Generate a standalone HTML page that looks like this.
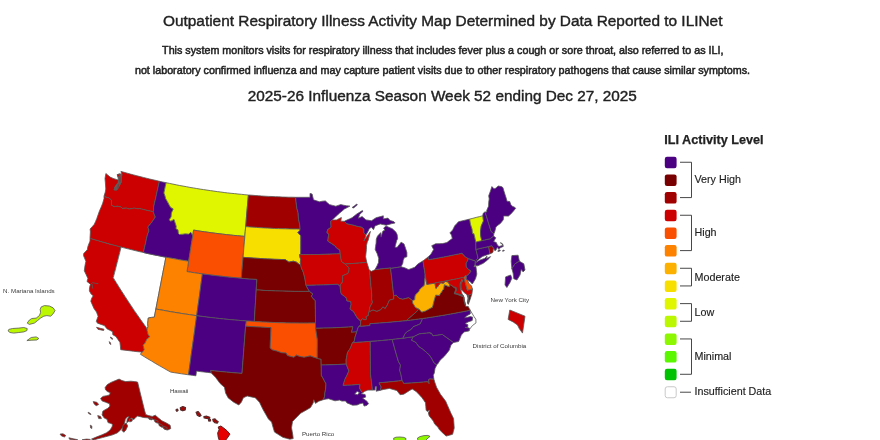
<!DOCTYPE html>
<html><head><meta charset="utf-8"><title>ILINet Activity Map</title>
<style>
html,body{margin:0;padding:0;background:#fff;}
body{width:880px;height:440px;overflow:hidden;}
svg{display:block;font-family:"Liberation Sans",Arial,sans-serif;}
.h1{font-size:15.4px;fill:#222;stroke:#222;stroke-width:0.4px;text-anchor:middle;}
.h2{font-size:10.74px;fill:#222;stroke:#222;stroke-width:0.5px;text-anchor:middle;}
.lg{font-size:12.65px;font-weight:bold;fill:#222;stroke:#222;stroke-width:0.25px;}
.lt{font-size:10.74px;fill:#222;stroke:#222;stroke-width:0.15px;}
.lb{font-size:6.2px;fill:#3a3a3a;}
.st path{stroke:#585858;stroke-width:0.8;stroke-linejoin:round;}
</style></head>
<body>
<svg width="880" height="440" viewBox="0 0 880 440">
<rect width="880" height="440" fill="#fff"/>
<text class="h1" x="442.7" y="26">Outpatient Respiratory Illness Activity Map Determined by Data Reported to ILINet</text>
<text class="h2" x="442.8" y="54.2">This system monitors visits for respiratory illness that includes fever plus a cough or sore throat, also referred to as ILI,</text>
<text class="h2" x="442.5" y="74">not laboratory confirmed influenza and may capture patient visits due to other respiratory pathogens that cause similar symptoms.</text>
<text class="h1" x="442.3" y="101.2" style="font-size:15.34px">2025-26 Influenza Season Week 52 ending Dec 27, 2025</text>
<g class="st">
<path d="M120.9,171.4L124.1,172.3L127.3,173.2L130.5,174.1L133.7,174.9L136.9,175.8L140.1,176.6L143.3,177.4L146.5,178.2L149.7,179.0L153.0,179.8L156.2,180.5L159.4,181.3L158.4,185.6L157.4,189.9L156.5,194.3L155.5,198.6L154.5,203.0L153.5,207.3L153.5,209.7L153.4,211.8L150.4,211.1L147.5,210.5L144.6,209.8L141.7,209.1L138.8,208.4L138.5,208.9L136.4,208.5L134.2,208.1L131.8,208.6L129.5,209.0L126.3,208.1L122.4,208.4L121.0,207.0L117.4,206.2L114.2,206.7L111.6,205.2L111.4,203.7L111.5,200.2L110.0,198.8L108.5,197.8L106.0,197.2L104.0,196.1L105.3,192.1L105.8,189.0L105.6,186.0L105.4,182.9L105.0,178.5L105.9,173.5L108.0,175.3L110.2,177.1L112.0,177.9L113.9,178.7L116.2,179.4L118.5,180.1L118.2,182.4L115.0,186.9L114.1,189.9L116.7,190.1L119.2,185.9L121.2,182.2L121.3,177.9L121.9,174.3Z" fill="#cc0000"/>
<path d="M104.0,196.1L106.0,197.2L108.5,197.8L110.0,198.8L111.5,200.2L111.4,203.7L111.6,205.2L114.2,206.7L117.4,206.2L121.0,207.0L122.4,208.4L126.3,208.1L129.5,209.0L131.8,208.6L134.2,208.1L136.4,208.5L138.5,208.9L138.8,208.4L141.7,209.1L144.6,209.8L147.5,210.5L150.4,211.1L153.4,211.8L154.0,213.9L155.3,217.0L153.1,220.3L151.5,222.6L147.8,227.1L148.8,229.5L148.8,231.7L147.6,233.9L146.5,238.5L145.5,243.2L144.4,247.9L143.4,252.5L139.8,251.7L136.2,250.9L132.6,250.0L129.0,249.1L125.5,248.3L121.9,247.3L118.3,246.4L114.8,245.5L111.2,244.5L107.7,243.5L104.1,242.5L100.6,241.5L97.0,240.5L93.5,239.4L90.0,238.4L90.2,235.1L90.4,231.9L90.1,229.0L92.2,226.7L94.3,224.3L95.6,221.4L96.8,218.5L98.2,214.5L99.6,210.6L101.1,207.2L102.5,203.8L104.0,198.8Z" fill="#cc0000"/>
<path d="M90.0,238.4L93.4,239.4L96.9,240.4L100.3,241.4L103.8,242.4L107.2,243.4L110.7,244.4L114.2,245.3L117.7,246.2L121.1,247.1L119.8,252.2L118.5,257.3L117.2,262.4L115.9,267.5L114.6,272.6L113.2,277.7L116.1,282.4L119.0,287.1L122.0,291.8L125.0,296.4L128.0,301.1L131.1,305.7L134.2,310.4L137.4,315.0L140.6,319.6L143.8,324.1L147.1,328.7L147.1,330.3L148.0,334.3L149.8,336.8L146.8,339.1L144.9,343.3L143.1,345.1L144.1,349.6L142.5,352.2L141.7,352.1L137.5,351.7L133.3,351.2L129.1,350.7L124.9,350.2L120.7,349.7L120.4,346.1L119.9,342.3L117.9,339.4L115.9,336.5L112.8,334.7L112.6,331.7L109.9,330.3L107.1,328.9L104.4,325.6L101.0,324.4L97.5,323.2L96.3,321.3L98.1,316.3L96.5,312.1L94.0,308.6L92.4,304.9L90.8,301.2L91.7,298.2L93.2,295.8L91.1,294.0L89.4,290.9L89.5,287.7L90.3,284.8L90.6,284.4L88.8,282.9L87.0,281.5L87.9,278.4L86.1,274.6L84.3,270.8L85.0,265.5L85.9,261.3L83.5,255.6L83.7,253.5L87.3,249.7L87.9,246.5L88.9,243.8L90.0,241.1Z" fill="#cc0000"/>
<path d="M121.1,247.1L124.8,248.1L128.6,249.0L132.3,249.9L136.0,250.8L139.7,251.7L143.5,252.5L147.2,253.4L150.9,254.2L154.7,255.0L158.4,255.7L162.2,256.5L165.9,257.2L164.9,262.4L163.9,267.6L162.9,272.7L161.9,277.9L160.9,283.1L159.9,288.2L158.9,293.4L157.9,298.6L156.9,303.8L155.9,309.0L155.1,313.1L154.3,317.2L151.6,317.4L148.3,318.0L148.0,320.7L147.7,323.5L148.0,326.7L147.1,328.7L143.8,324.1L140.6,319.6L137.4,315.0L134.2,310.4L131.1,305.7L128.0,301.1L125.0,296.4L122.0,291.8L119.0,287.1L116.1,282.4L113.2,277.7L114.6,272.6L115.9,267.5L117.2,262.4L118.5,257.3L119.8,252.2Z" fill="#ffffff"/>
<path d="M159.4,181.3L162.7,182.0L166.1,182.7L165.3,186.1L164.6,189.6L163.9,193.0L164.9,195.7L165.7,198.7L167.3,201.4L169.4,205.4L170.8,207.6L173.2,208.9L171.4,213.0L171.1,216.8L169.3,219.8L170.7,221.2L174.0,219.4L174.6,221.3L176.3,226.5L175.9,228.6L178.0,229.9L178.4,233.4L179.5,234.5L182.9,234.2L185.1,233.8L188.7,234.1L190.8,232.3L192.7,235.6L191.9,240.7L191.1,245.8L190.3,251.0L189.5,256.1L188.6,261.2L184.8,260.6L181.1,260.0L177.3,259.3L173.5,258.6L169.7,257.9L165.9,257.2L162.2,256.5L158.4,255.7L154.6,255.0L150.9,254.2L147.1,253.4L143.4,252.5L144.4,247.9L145.5,243.2L146.5,238.5L147.6,233.9L148.8,231.7L148.8,229.5L147.8,227.1L151.5,222.6L153.1,220.3L155.3,217.0L154.0,213.9L153.4,211.8L153.5,209.7L153.5,207.3L154.5,203.0L155.5,198.6L156.5,194.3L157.4,189.9L158.4,185.6Z" fill="#4b0082"/>
<path d="M166.1,182.7L169.5,183.4L172.9,184.1L176.3,184.8L179.7,185.5L183.1,186.1L186.5,186.7L189.9,187.4L193.3,187.9L196.7,188.5L200.2,189.1L203.6,189.6L207.0,190.1L210.4,190.6L213.9,191.1L217.3,191.6L220.8,192.0L224.2,192.5L227.6,192.9L231.1,193.3L234.5,193.6L238.0,194.0L241.4,194.3L244.9,194.7L248.4,195.0L247.9,200.1L247.5,205.3L247.0,210.4L246.6,215.6L246.2,220.8L245.7,226.0L245.3,231.2L244.8,236.4L241.2,236.1L237.5,235.7L233.8,235.4L230.2,235.0L226.5,234.6L222.8,234.2L219.2,233.7L215.5,233.3L211.8,232.8L208.2,232.3L204.5,231.8L200.9,231.3L197.2,230.7L193.6,230.1L193.2,232.9L192.7,235.6L190.8,232.3L188.7,234.1L185.1,233.8L182.9,234.2L179.5,234.5L178.4,233.4L178.0,229.9L175.9,228.6L176.3,226.5L174.6,221.3L174.0,219.4L170.7,221.2L169.3,219.8L171.1,216.8L171.4,213.0L173.2,208.9L170.8,207.6L169.4,205.4L167.3,201.4L165.7,198.7L164.9,195.7L163.9,193.0L164.6,189.6L165.3,186.1Z" fill="#e0f500"/>
<path d="M193.6,230.1L197.2,230.7L200.9,231.3L204.5,231.8L208.2,232.3L211.8,232.8L215.5,233.3L219.2,233.7L222.8,234.2L226.5,234.6L230.2,235.0L233.8,235.4L237.5,235.7L241.2,236.1L244.8,236.4L244.4,241.6L244.0,246.8L243.5,252.0L243.1,257.3L242.6,262.5L242.2,267.8L241.7,273.0L241.3,278.2L237.4,277.9L233.5,277.5L229.6,277.2L225.7,276.8L221.8,276.3L218.0,275.9L214.1,275.4L210.2,274.9L206.3,274.4L202.4,273.9L198.6,273.4L194.7,272.8L190.8,272.2L187.0,271.6L187.8,266.4L188.6,261.2L189.5,256.0L190.3,250.8L191.1,245.6L192.0,240.5L192.8,235.3Z" fill="#fa4f00"/>
<path d="M165.9,257.2L169.7,257.9L173.5,258.6L177.3,259.3L181.1,260.0L184.8,260.6L188.6,261.2L187.8,266.4L187.0,271.6L190.8,272.2L194.7,272.8L198.6,273.4L202.4,273.9L201.7,279.1L201.0,284.3L200.3,289.6L199.6,294.8L198.9,300.0L198.1,305.2L197.4,310.5L196.7,315.7L193.0,315.2L189.3,314.6L185.6,314.1L181.8,313.5L178.1,312.9L174.4,312.3L170.7,311.7L167.0,311.0L163.3,310.3L159.6,309.7L155.9,309.0L156.9,303.8L157.9,298.6L158.9,293.4L159.9,288.2L160.9,283.1L161.9,277.9L162.9,272.7L163.9,267.6L164.9,262.4Z" fill="#fc8200"/>
<path d="M155.9,309.0L159.6,309.7L163.3,310.3L167.0,311.0L170.7,311.7L174.4,312.3L178.1,312.9L181.8,313.5L185.6,314.1L189.3,314.6L193.0,315.2L196.7,315.7L196.0,320.6L195.3,325.6L194.7,330.5L194.0,335.4L193.3,340.4L192.6,345.3L191.9,350.2L191.2,355.1L190.6,360.0L189.9,365.0L189.2,369.9L188.5,374.8L184.9,374.3L181.4,373.8L177.8,373.2L174.3,372.7L170.7,372.1L166.9,370.0L163.1,367.8L159.2,365.6L155.4,363.4L151.7,361.1L147.9,358.9L144.1,356.6L140.4,354.3L141.7,352.1L142.5,352.2L144.1,349.6L143.1,345.1L144.9,343.3L146.8,339.1L149.8,336.8L148.0,334.3L147.1,330.3L147.1,328.7L148.0,326.7L147.7,323.5L148.0,320.7L148.3,318.0L151.6,317.4L154.3,317.2L155.1,313.1Z" fill="#fc8200"/>
<path d="M202.4,273.9L206.3,274.4L210.2,274.9L214.1,275.4L218.0,275.9L221.8,276.3L225.7,276.8L229.6,277.2L233.5,277.5L237.4,277.9L241.3,278.2L245.2,278.6L249.1,278.9L253.0,279.1L256.9,279.4L256.6,284.7L256.2,289.9L255.9,295.2L255.6,300.4L255.3,305.7L254.9,311.0L254.6,316.2L254.3,321.5L250.4,321.2L246.6,321.0L242.7,320.7L238.9,320.4L235.0,320.0L231.2,319.7L227.4,319.3L223.5,318.9L219.7,318.5L215.9,318.1L212.0,317.7L208.2,317.2L204.4,316.7L200.5,316.2L196.7,315.7L197.4,310.5L198.1,305.2L198.9,300.0L199.6,294.8L200.3,289.6L201.0,284.3L201.7,279.1Z" fill="#4b0082"/>
<path d="M196.7,315.7L200.5,316.2L204.3,316.7L208.1,317.2L212.0,317.6L215.8,318.1L219.6,318.5L223.4,318.9L227.2,319.3L231.1,319.7L234.9,320.0L238.7,320.3L242.5,320.7L246.4,320.9L245.6,326.2L245.2,331.4L244.8,336.7L244.4,341.9L244.0,347.2L243.6,352.4L243.2,357.7L242.8,362.9L242.4,368.2L242.0,373.4L238.1,373.1L234.1,372.8L230.2,372.4L226.3,372.1L222.4,371.7L218.5,371.3L214.6,370.9L210.7,370.5L211.3,372.9L207.6,372.4L203.9,372.0L200.2,371.6L196.5,371.1L195.9,375.8L192.2,375.3L188.5,374.8L189.2,369.9L189.9,365.0L190.6,360.0L191.2,355.1L191.9,350.2L192.6,345.3L193.3,340.4L194.0,335.4L194.7,330.5L195.3,325.6L196.0,320.6Z" fill="#4b0082"/>
<path d="M248.4,195.0L251.7,195.2L255.1,195.5L258.5,195.7L261.8,196.0L265.2,196.2L268.6,196.4L272.0,196.5L275.3,196.7L278.7,196.8L282.1,197.0L285.5,197.1L288.9,197.2L292.2,197.2L295.6,197.3L296.1,202.4L296.5,205.4L296.9,208.5L298.1,212.8L298.3,216.1L298.6,219.4L299.2,222.3L299.8,225.3L300.1,229.1L296.4,229.0L292.8,229.0L289.2,228.9L285.5,228.8L281.9,228.7L278.3,228.6L274.7,228.5L271.0,228.3L267.4,228.1L263.8,227.9L260.2,227.7L256.5,227.4L252.9,227.2L249.3,226.9L245.7,226.6L246.1,222.1L246.4,217.5L246.8,213.0L247.2,208.5L247.6,204.0L248.0,199.5Z" fill="#a10000"/>
<path d="M245.7,226.6L249.3,226.9L252.9,227.2L256.5,227.4L260.2,227.7L263.8,227.9L267.4,228.1L271.0,228.3L274.7,228.5L278.3,228.6L281.9,228.7L285.5,228.8L289.2,228.9L292.8,229.0L296.4,229.0L300.1,229.1L299.8,230.5L297.9,232.6L300.8,235.8L300.8,240.5L300.8,245.2L300.8,249.9L300.7,254.6L299.6,254.6L299.8,256.7L300.7,259.3L300.3,262.5L300.7,265.2L298.8,264.0L296.5,262.2L293.5,261.2L291.2,261.6L288.9,262.1L285.2,259.6L281.6,259.5L278.1,259.4L274.6,259.3L271.1,259.1L267.6,258.9L264.1,258.8L260.6,258.5L257.1,258.3L253.6,258.1L250.1,257.8L246.6,257.6L243.1,257.3L243.5,252.2L243.9,247.0L244.4,241.9L244.8,236.8L245.2,231.7Z" fill="#f7df00"/>
<path d="M243.1,257.3L246.6,257.6L250.1,257.8L253.6,258.1L257.1,258.3L260.6,258.5L264.1,258.8L267.6,258.9L271.1,259.1L274.6,259.3L278.1,259.4L281.6,259.5L285.2,259.6L288.9,262.1L291.2,261.6L293.5,261.2L296.5,262.2L298.8,264.0L300.7,265.2L301.5,268.3L303.4,272.5L304.1,275.3L304.8,278.2L305.3,280.9L306.0,285.3L307.7,288.6L309.6,291.4L305.8,291.4L302.0,291.4L298.2,291.4L294.3,291.4L290.5,291.3L286.7,291.2L282.9,291.1L279.1,291.0L275.3,290.9L271.5,290.7L267.6,290.6L263.8,290.4L260.0,290.1L256.2,289.9L256.5,284.7L256.9,279.4L253.0,279.1L249.1,278.9L245.2,278.6L241.3,278.2L241.7,273.0L242.2,267.8L242.6,262.5Z" fill="#780000"/>
<path d="M256.2,289.9L260.0,290.1L263.8,290.4L267.6,290.6L271.5,290.7L275.3,290.9L279.1,291.0L282.9,291.1L286.7,291.2L290.5,291.3L294.3,291.4L298.2,291.4L302.0,291.4L305.8,291.4L309.6,291.4L312.9,294.0L311.3,296.1L312.9,298.2L315.3,300.7L315.3,305.2L315.4,309.6L315.4,314.1L315.5,318.5L315.5,323.0L311.5,323.0L307.4,323.1L303.3,323.1L299.2,323.1L295.1,323.0L291.0,323.0L286.9,322.9L282.9,322.8L278.8,322.7L274.7,322.5L270.6,322.4L266.5,322.2L262.4,322.0L258.4,321.7L254.3,321.5L254.6,316.2L254.9,311.0L255.2,305.7L255.6,300.4L255.9,295.2Z" fill="#780000"/>
<path d="M246.4,320.9L250.4,321.2L254.5,321.5L258.6,321.7L262.6,322.0L266.7,322.2L270.8,322.4L274.8,322.5L278.9,322.7L283.0,322.8L287.0,322.9L291.1,323.0L295.2,323.0L299.3,323.1L303.3,323.1L307.4,323.1L311.5,323.0L315.5,323.0L315.6,328.3L316.2,332.2L316.8,336.0L317.4,339.9L317.4,344.5L317.3,349.2L317.3,353.8L317.3,358.4L313.7,357.2L310.2,355.9L307.2,356.6L304.1,357.3L301.6,356.8L299.0,356.2L296.4,355.2L293.8,357.3L290.6,356.4L287.4,355.6L286.1,353.1L281.8,352.8L279.3,351.9L276.8,351.1L272.5,349.9L270.0,348.1L270.2,343.0L270.5,337.9L270.7,332.8L270.9,327.6L267.3,327.5L263.7,327.3L260.1,327.1L256.5,326.9L252.9,326.7L249.2,326.4L245.6,326.2Z" fill="#fa4f00"/>
<path d="M245.6,326.2L249.2,326.4L252.9,326.7L256.5,326.9L260.1,327.1L263.7,327.3L267.3,327.5L270.9,327.6L270.7,332.8L270.5,337.9L270.2,343.0L270.0,348.1L272.5,349.9L276.8,351.1L279.3,351.9L281.8,352.8L286.1,353.1L287.4,355.6L290.6,356.4L293.8,357.3L296.4,355.2L299.0,356.2L301.6,356.8L304.1,357.3L307.2,356.6L310.2,355.9L313.7,357.2L317.3,358.4L321.1,359.2L321.1,362.1L321.2,365.0L321.3,368.6L321.3,372.1L321.4,375.6L322.7,377.6L324.3,380.7L326.0,383.8L325.6,389.1L324.8,393.3L324.7,395.9L323.6,399.6L321.2,400.4L318.7,401.2L315.5,403.4L313.7,399.7L313.2,402.9L310.5,407.6L307.4,409.4L304.1,411.3L300.5,413.3L297.7,416.2L294.9,419.0L292.5,421.6L292.0,424.7L291.5,427.8L292.2,431.5L292.8,435.1L293.2,438.6L289.9,439.2L286.4,438.3L282.8,437.3L280.3,435.7L277.7,434.1L274.5,432.1L273.0,427.1L271.6,422.1L268.4,418.9L265.6,414.1L262.9,409.3L261.2,405.8L259.5,402.3L255.2,397.7L251.2,396.9L247.2,396.0L243.4,397.7L241.3,402.2L238.8,405.0L236.1,403.5L233.5,402.1L230.9,400.0L228.2,397.9L225.6,393.1L225.0,390.1L224.4,387.2L220.2,383.6L217.9,380.5L215.5,377.3L211.5,373.2L211.3,372.9L210.7,370.5L214.6,370.9L218.5,371.3L222.4,371.7L226.3,372.1L230.2,372.4L234.1,372.8L238.1,373.1L242.0,373.4L242.4,368.2L242.8,362.9L243.2,357.7L243.6,352.4L244.0,347.2L244.4,341.9L244.8,336.7L245.2,331.4Z" fill="#780000"/>
<path d="M295.6,197.3L298.5,197.3L301.4,197.3L304.3,197.3L307.2,197.3L310.0,197.3L310.0,193.4L312.1,194.0L312.8,196.9L313.5,199.8L316.5,200.8L319.5,201.8L322.3,201.2L325.4,200.9L327.4,202.8L329.4,204.6L332.6,205.4L335.8,206.2L338.2,205.4L340.7,204.6L343.5,205.2L346.4,205.8L349.9,206.1L347.2,207.6L344.4,209.0L342.1,211.0L339.7,213.0L337.6,214.9L335.6,216.8L332.2,220.1L330.8,221.1L330.9,224.1L331.1,227.2L327.8,229.6L326.9,232.3L328.7,234.3L328.1,238.5L327.8,241.1L331.6,243.6L334.7,245.6L336.7,248.1L339.8,250.1L340.2,253.7L336.6,253.9L333.0,254.0L329.4,254.2L325.8,254.3L322.3,254.4L318.7,254.5L315.1,254.5L311.5,254.6L307.9,254.6L304.3,254.6L300.7,254.6L300.8,249.9L300.8,245.2L300.8,240.5L300.8,235.8L297.9,232.6L299.8,230.5L300.1,229.1L299.8,225.3L299.2,222.3L298.6,219.4L298.3,216.1L298.1,212.8L296.9,208.5L296.5,205.4L296.1,202.4Z" fill="#4b0082"/>
<path d="M299.6,254.6L303.3,254.6L307.0,254.6L310.7,254.6L314.4,254.5L318.1,254.5L321.7,254.4L325.4,254.3L329.1,254.2L332.8,254.0L336.5,253.9L340.2,253.7L340.9,258.4L341.5,261.5L345.1,264.0L347.1,266.0L349.1,267.9L348.9,271.1L347.9,273.5L345.3,274.6L342.6,275.7L342.6,278.9L342.5,282.0L340.3,284.8L340.2,286.6L337.7,284.3L334.2,284.4L330.6,284.6L327.1,284.8L323.6,284.9L320.1,285.0L316.5,285.1L313.0,285.2L309.5,285.3L306.0,285.3L305.3,280.9L304.8,278.2L304.1,275.3L303.4,272.5L301.5,268.3L300.7,265.2L300.3,262.5L300.7,259.3L299.8,256.7Z" fill="#cc0000"/>
<path d="M306.0,285.3L309.5,285.3L313.0,285.2L316.5,285.1L320.1,285.0L323.6,284.9L327.1,284.8L330.6,284.6L334.2,284.4L337.7,284.3L340.2,286.6L340.6,291.3L341.2,293.7L343.6,295.7L346.2,297.7L346.9,300.8L350.8,301.6L351.1,304.4L350.0,309.1L353.5,311.5L355.4,314.8L357.4,318.1L360.7,321.0L360.6,325.3L358.6,326.5L357.5,329.2L356.8,331.9L354.1,332.1L351.3,332.2L352.8,326.8L348.6,327.1L344.5,327.3L340.4,327.5L336.3,327.7L332.1,327.9L328.0,328.0L323.9,328.1L319.7,328.2L315.6,328.3L315.5,323.0L315.5,318.5L315.4,314.1L315.4,309.6L315.3,305.2L315.3,300.7L312.9,298.2L311.3,296.1L312.9,294.0L309.6,291.4L307.7,288.6Z" fill="#4b0082"/>
<path d="M315.6,328.3L319.7,328.2L323.9,328.1L328.0,328.0L332.1,327.9L336.3,327.7L340.4,327.5L344.5,327.3L348.6,327.1L352.8,326.8L351.3,332.2L354.1,332.1L356.8,331.9L355.1,336.7L354.3,341.2L352.5,342.7L350.4,348.1L347.5,352.5L346.5,357.8L346.1,359.9L346.2,364.1L342.0,364.3L337.8,364.5L333.7,364.7L329.5,364.8L325.4,364.9L321.2,365.0L321.1,362.1L321.1,359.2L317.3,358.4L317.3,353.8L317.3,349.2L317.4,344.5L317.4,339.9L316.8,336.0L316.2,332.2Z" fill="#780000"/>
<path d="M321.2,365.0L325.4,364.9L329.5,364.8L333.7,364.7L337.8,364.5L342.0,364.3L346.2,364.1L347.5,367.5L348.9,370.8L347.3,374.6L344.9,379.4L344.0,382.4L343.1,385.3L347.4,385.1L351.6,384.9L355.8,384.6L360.1,384.3L359.4,387.9L361.5,391.6L362.7,392.8L361.0,393.7L365.1,394.5L365.7,397.1L362.6,398.3L366.9,401.2L368.5,403.7L366.8,405.4L364.1,406.1L362.9,403.0L359.8,403.8L357.1,405.0L352.6,405.2L349.8,404.1L347.0,402.9L345.5,400.9L341.9,401.1L339.5,400.1L335.0,400.8L331.8,399.8L328.6,398.7L326.1,399.1L323.6,399.6L324.7,395.9L324.8,393.3L325.6,389.1L326.0,383.8L324.3,380.7L322.7,377.6L321.4,375.6L321.3,372.1L321.3,368.6Z" fill="#4b0082"/>
<path d="M340.2,253.7L339.8,250.1L336.7,248.1L334.7,245.6L331.6,243.6L327.8,241.1L328.1,238.5L328.7,234.3L326.9,232.3L327.8,229.6L331.1,227.2L330.9,224.1L330.8,221.1L332.2,220.1L334.3,220.0L336.5,219.9L338.9,218.7L341.4,217.5L340.8,221.2L344.3,221.3L346.6,223.6L349.1,224.2L351.6,224.7L354.1,225.3L357.9,226.4L361.6,227.1L363.9,229.0L363.9,232.7L365.9,235.1L365.4,237.3L363.8,241.1L365.1,238.9L367.8,235.0L370.4,231.4L369.3,235.8L368.2,240.2L367.3,241.8L366.5,245.6L366.4,249.3L366.0,253.0L365.6,256.7L366.2,259.6L366.8,262.4L363.2,262.7L359.6,263.0L355.9,263.3L352.3,263.5L348.7,263.8L345.1,264.0L341.5,261.5L340.9,258.4Z" fill="#cc0000"/>
<path d="M345.1,264.0L348.7,263.8L352.3,263.5L355.9,263.3L359.6,263.0L363.2,262.7L366.8,262.4L367.9,265.8L368.9,269.1L369.6,270.5L370.0,275.5L370.5,280.4L370.9,285.4L371.4,290.3L371.8,295.3L371.6,299.0L372.5,302.3L369.9,307.1L369.0,311.9L368.5,313.0L368.4,315.5L365.9,316.7L366.7,319.0L365.1,319.9L362.2,318.8L360.7,321.0L357.4,318.1L355.4,314.8L353.5,311.5L350.0,309.1L351.1,304.4L350.8,301.6L346.9,300.8L346.2,297.7L343.6,295.7L341.2,293.7L340.6,291.3L340.2,286.6L340.3,284.8L342.5,282.0L342.6,278.9L342.6,275.7L345.3,274.6L347.9,273.5L348.9,271.1L349.1,267.9L347.1,266.0Z" fill="#cc0000"/>
<path d="M369.6,270.5L371.5,271.3L374.4,270.0L375.0,269.5L378.1,269.2L381.2,268.8L384.3,268.5L387.5,268.2L390.6,267.8L390.6,268.4L391.1,273.0L391.7,277.5L392.2,282.0L392.7,286.6L393.2,291.1L393.7,295.7L393.8,299.0L391.7,299.6L389.5,300.1L387.2,305.2L385.1,308.6L382.9,306.9L380.7,309.8L376.8,311.4L373.0,310.0L369.0,311.9L369.9,307.1L372.5,302.3L371.6,299.0L371.8,295.3L371.4,290.3L370.9,285.4L370.5,280.4L370.0,275.5Z" fill="#a10000"/>
<path d="M375.0,269.5L377.1,265.7L378.5,262.4L378.7,258.3L377.2,253.7L375.2,249.5L375.6,246.3L376.1,243.1L376.3,239.1L377.5,236.1L380.8,232.6L381.0,237.1L381.9,234.1L382.9,231.1L385.0,230.3L383.6,228.1L386.1,225.9L388.2,227.0L390.4,227.9L392.6,228.9L396.0,232.2L397.2,234.8L397.6,238.8L396.7,240.5L395.8,243.9L394.9,247.3L397.2,247.3L399.2,244.7L401.1,242.2L404.0,243.9L405.5,248.2L406.9,252.5L406.9,256.8L404.4,257.6L403.2,260.3L402.8,263.2L401.0,266.8L397.5,267.4L394.1,267.9L390.6,268.4L390.6,267.8L387.5,268.2L384.3,268.5L381.2,268.8L378.1,269.2Z" fill="#4b0082"/>
<path d="M344.3,221.3L346.9,220.1L349.5,218.9L352.1,217.7L354.5,215.8L356.9,213.9L359.6,212.3L362.3,210.6L363.1,211.3L359.8,214.2L358.3,218.2L360.2,217.4L362.1,216.6L366.0,219.9L368.8,220.3L371.5,220.8L373.8,219.2L376.1,217.7L378.5,217.1L380.9,216.5L383.3,215.8L383.3,218.9L385.6,218.5L387.9,218.1L390.1,220.5L393.8,221.6L395.1,223.0L391.9,223.6L389.0,224.4L386.1,225.2L383.2,224.6L380.2,223.9L377.6,224.9L375.0,225.9L373.5,229.7L371.4,227.3L369.4,228.5L367.8,231.8L365.9,235.1L363.9,232.7L363.9,229.0L361.6,227.1L357.9,226.4L354.1,225.3L351.6,224.7L349.1,224.2L346.6,223.6Z" fill="#4b0082"/>
<path d="M390.6,268.4L394.1,267.9L397.5,267.4L401.0,266.8L404.6,267.7L407.1,268.9L408.8,269.5L411.7,268.4L414.7,267.3L417.8,264.1L421.0,262.1L423.0,260.9L423.7,265.5L424.5,270.2L425.2,274.8L425.0,277.4L424.7,281.0L424.2,285.6L422.1,287.2L420.0,288.9L419.4,290.4L418.1,292.4L416.3,293.7L415.0,296.0L414.7,299.8L412.4,300.5L408.7,297.7L405.7,298.5L402.7,299.3L399.0,298.2L396.2,295.3L393.7,295.7L393.2,291.1L392.7,286.6L392.2,282.0L391.7,277.5L391.1,273.0Z" fill="#4b0082"/>
<path d="M406.2,320.7L402.3,321.1L398.4,321.5L394.5,321.8L390.6,322.2L386.8,322.5L382.9,322.8L379.6,323.1L376.4,323.3L373.1,323.5L369.9,323.7L370.0,325.6L366.2,325.9L362.4,326.2L358.6,326.5L360.6,325.3L360.7,321.0L362.2,318.8L365.1,319.9L366.7,319.0L365.9,316.7L368.4,315.5L368.5,313.0L369.0,311.9L373.0,310.0L376.8,311.4L380.7,309.8L382.9,306.9L385.1,308.6L387.2,305.2L389.5,300.1L391.7,299.6L393.8,299.0L393.7,295.7L396.2,295.3L399.0,298.2L402.7,299.3L405.7,298.5L408.7,297.7L412.4,300.5L412.7,303.1L414.7,306.2L415.9,307.8L418.8,308.9L416.5,311.8L413.5,314.4L409.9,317.5Z" fill="#a10000"/>
<path d="M358.6,326.5L362.4,326.2L366.2,325.9L370.0,325.6L369.9,323.7L373.1,323.5L376.4,323.3L379.6,323.1L382.9,322.8L386.8,322.5L390.6,322.2L394.5,321.8L398.4,321.5L402.3,321.1L406.2,320.7L410.3,320.1L414.4,319.6L418.5,319.0L422.6,318.5L420.3,323.8L418.1,324.8L416.0,325.7L413.5,326.6L411.0,329.6L407.4,331.5L405.1,333.6L403.0,338.2L399.4,338.7L395.8,339.1L392.2,339.5L388.6,339.9L384.9,340.2L381.2,340.6L377.6,340.9L373.9,341.2L370.2,341.4L366.7,341.7L363.1,342.0L359.6,342.2L356.0,342.5L352.5,342.7L354.3,341.2L355.1,336.7L356.8,331.9L357.5,329.2Z" fill="#4b0082"/>
<path d="M352.5,342.7L356.0,342.5L359.6,342.2L363.1,342.0L366.7,341.7L370.2,341.4L370.3,346.1L370.3,350.8L370.4,355.5L370.4,360.1L370.5,364.8L370.5,369.5L370.5,374.1L371.0,378.1L371.5,382.1L372.0,386.1L372.4,390.1L367.9,390.1L364.4,391.4L362.7,392.8L361.5,391.6L359.4,387.9L360.1,384.3L355.8,384.6L351.6,384.9L347.4,385.1L343.1,385.3L344.0,382.4L344.9,379.4L347.3,374.6L348.9,370.8L347.5,367.5L346.2,364.1L346.1,359.9L346.5,357.8L347.5,352.5L350.4,348.1Z" fill="#cc0000"/>
<path d="M370.2,341.4L373.9,341.2L377.6,340.9L381.2,340.6L384.9,340.2L388.6,339.9L392.2,339.5L393.4,343.9L394.6,348.2L395.8,352.6L397.1,356.9L398.3,361.2L400.5,365.2L399.7,370.2L401.0,374.8L401.5,377.7L402.1,380.5L403.7,383.5L402.1,380.5L398.3,381.0L394.4,381.4L390.6,381.8L386.7,382.2L382.9,382.5L379.0,382.9L381.2,386.9L380.4,390.3L376.1,391.2L376.7,386.8L375.3,386.6L375.1,390.0L372.4,390.1L372.0,386.1L371.5,382.1L371.0,378.1L370.5,374.1L370.5,369.5L370.5,364.8L370.4,360.1L370.4,355.5L370.3,350.8L370.3,346.1Z" fill="#4b0082"/>
<path d="M392.2,339.5L395.8,339.1L399.4,338.7L403.0,338.2L406.4,337.7L409.8,337.2L413.2,336.8L411.6,340.2L415.7,342.2L418.9,346.6L422.3,348.8L425.3,351.3L429.4,355.1L431.1,357.5L432.6,360.2L434.1,362.9L436.8,364.8L435.0,368.6L434.3,373.0L433.3,375.2L433.9,379.2L429.8,378.9L428.6,379.7L429.2,383.7L427.5,381.7L423.6,382.1L419.6,382.4L415.6,382.7L411.7,383.0L407.7,383.2L403.7,383.5L402.1,380.5L401.5,377.7L401.0,374.8L399.7,370.2L400.5,365.2L398.3,361.2L397.1,356.9L395.8,352.6L394.6,348.2L393.4,343.9Z" fill="#4b0082"/>
<path d="M380.4,390.3L381.2,386.9L379.0,382.9L382.9,382.5L386.7,382.2L390.6,381.8L394.4,381.4L398.3,381.0L402.1,380.5L403.7,383.5L407.7,383.2L411.7,383.0L415.6,382.7L419.6,382.4L423.6,382.1L427.5,381.7L429.2,383.7L428.6,379.7L429.8,378.9L433.9,379.2L435.0,382.9L436.6,387.4L438.5,390.8L440.4,394.2L443.1,397.8L445.7,401.3L447.5,405.4L449.3,409.5L451.1,413.6L453.5,418.4L453.9,423.3L454.2,428.1L453.4,431.2L452.6,434.3L449.4,435.2L446.1,436.1L442.7,432.9L439.3,429.6L438.0,427.2L434.7,424.1L433.3,421.1L431.3,418.5L429.2,415.9L428.3,412.9L429.8,410.1L427.2,411.5L426.1,410.1L425.8,406.4L425.5,402.8L423.8,400.3L422.0,397.7L419.1,394.6L416.1,391.4L412.2,389.0L409.2,390.7L406.5,392.5L403.7,394.2L400.1,394.7L396.9,390.6L393.2,389.5L389.4,388.4L386.3,389.0L383.2,389.5Z" fill="#a10000"/>
<path d="M413.2,336.8L416.2,335.3L419.2,333.8L422.9,333.4L426.5,333.0L430.2,332.6L430.4,333.7L431.3,333.0L433.0,335.7L436.1,335.3L439.2,334.8L442.3,334.4L446.0,337.1L449.8,339.8L453.6,342.5L451.0,345.1L449.2,350.2L446.7,353.4L444.1,356.5L442.0,358.4L439.9,360.4L438.2,363.3L436.8,364.8L434.1,362.9L432.6,360.2L431.1,357.5L429.4,355.1L425.3,351.3L422.3,348.8L418.9,346.6L415.7,342.2L411.6,340.2Z" fill="#4b0082"/>
<path d="M422.6,318.5L426.6,317.9L430.6,317.3L434.6,316.7L438.6,316.0L442.5,315.4L446.5,314.7L450.4,314.0L454.4,313.3L458.4,312.5L462.3,311.8L466.3,311.0L470.2,310.2L470.3,313.9L466.9,315.7L464.7,317.8L467.6,317.2L470.5,316.6L472.7,317.2L472.2,320.5L468.2,321.9L465.1,323.6L467.9,324.7L467.6,327.4L465.0,327.4L469.5,328.1L468.9,330.9L466.5,331.4L464.1,331.9L461.3,335.1L460.0,338.3L458.6,341.5L456.1,342.0L453.6,342.5L449.8,339.8L446.0,337.1L442.3,334.4L439.2,334.8L436.1,335.3L433.0,335.7L431.3,333.0L430.4,333.7L430.2,332.6L426.5,333.0L422.9,333.4L419.2,333.8L416.2,335.3L413.2,336.8L409.8,337.2L406.4,337.7L403.0,338.2L405.1,333.6L407.4,331.5L411.0,329.6L413.5,326.6L416.0,325.7L418.1,324.8L420.3,323.8Z" fill="#4b0082"/>
<path d="M406.2,320.7L409.9,317.5L413.5,314.4L416.5,311.8L418.8,308.9L421.7,312.1L425.3,311.1L428.2,309.5L430.3,308.3L432.4,307.2L432.8,305.7L434.1,300.5L435.7,295.1L439.2,295.5L441.5,292.0L443.6,288.9L444.4,284.7L446.8,285.7L449.1,286.7L449.6,284.6L451.5,285.3L453.9,287.2L455.8,287.9L456.1,289.9L454.7,293.4L457.3,294.0L461.0,295.4L463.7,296.5L464.5,300.6L465.1,303.4L465.7,306.3L468.3,306.5L469.1,308.2L470.2,310.2L466.3,311.0L462.3,311.8L458.4,312.5L454.4,313.3L450.4,314.0L446.5,314.7L442.5,315.4L438.6,316.0L434.6,316.7L430.6,317.3L426.6,317.9L422.6,318.5L418.5,319.0L414.4,319.6L410.3,320.1Z" fill="#780000"/>
<path d="M467.3,295.7L469.6,294.8L471.9,293.8L470.1,299.4L468.3,304.4L467.5,302.7L468.2,298.2Z" fill="#780000"/>
<path d="M418.8,308.9L415.9,307.8L414.7,306.2L412.7,303.1L412.4,300.5L414.7,299.8L415.0,296.0L416.3,293.7L418.1,292.4L419.4,290.4L420.0,288.9L422.1,287.2L424.2,285.6L424.7,281.0L425.0,277.4L425.2,274.8L426.0,279.6L426.8,284.4L429.5,283.9L432.3,283.5L435.0,283.0L435.4,285.7L435.9,288.4L437.3,287.1L438.8,285.0L440.7,282.7L443.4,283.3L445.2,281.3L448.0,281.9L449.6,284.6L449.1,286.7L446.8,285.7L444.4,284.7L443.6,288.9L441.5,292.0L439.2,295.5L435.7,295.1L434.1,300.5L432.8,305.7L432.4,307.2L430.3,308.3L428.2,309.5L425.3,311.1L421.7,312.1Z" fill="#fcb100"/>
<path d="M423.0,260.9L426.0,258.6L428.2,256.9L428.7,259.7L432.4,259.1L436.1,258.4L439.8,257.7L443.6,257.0L447.3,256.3L451.0,255.5L454.7,254.7L458.4,254.0L462.0,253.2L465.2,256.8L468.4,258.6L467.4,261.1L466.1,263.4L466.3,266.8L468.0,269.1L471.1,271.1L468.5,274.4L466.5,275.9L465.0,275.8L463.8,277.4L460.2,278.1L456.6,278.9L453.0,279.6L449.4,280.3L445.8,281.0L442.2,281.7L438.6,282.3L435.0,283.0L432.3,283.5L429.5,283.9L426.8,284.4L426.0,279.6L425.2,274.8L424.5,270.2L423.7,265.5Z" fill="#cc0000"/>
<path d="M435.0,283.0L438.6,282.3L442.2,281.7L445.8,281.0L449.4,280.3L453.0,279.6L456.6,278.9L460.2,278.1L463.8,277.4L465.0,281.6L466.1,285.9L467.3,290.2L469.9,289.7L472.5,289.2L471.9,293.8L469.6,294.8L467.3,295.7L466.5,294.2L464.1,292.6L462.1,290.3L461.0,287.9L460.8,285.8L461.0,283.6L462.8,280.5L461.9,279.6L460.0,283.8L460.0,286.2L460.5,289.1L461.7,293.1L463.7,296.5L461.0,295.4L457.3,294.0L454.7,293.4L456.1,289.9L455.8,287.9L453.9,287.2L451.5,285.3L449.6,284.6L448.0,281.9L445.2,281.3L443.4,283.3L440.7,282.7L438.8,285.0L437.3,287.1L435.9,288.4L435.4,285.7Z" fill="#cc0000"/>
<path d="M463.8,277.4L465.0,275.8L466.5,275.9L465.9,278.2L467.8,281.0L469.2,283.9L471.3,285.6L472.5,289.2L469.9,289.7L467.3,290.2L466.1,285.9L465.0,281.6Z" fill="#fa4f00"/>
<path d="M466.5,275.9L468.5,274.4L471.1,271.1L468.0,269.1L466.3,266.8L466.1,263.4L467.4,261.1L468.4,258.6L471.9,259.8L475.4,260.9L475.2,264.2L473.9,266.7L475.9,266.5L476.4,270.4L476.8,274.1L475.5,278.7L473.9,281.4L472.3,284.0L470.0,281.6L466.2,279.2Z" fill="#4b0082"/>
<path d="M428.2,256.9L430.9,254.2L433.6,249.5L431.7,245.7L433.7,244.8L435.6,243.8L439.1,243.7L442.5,243.6L444.7,243.1L446.9,242.6L450.2,239.9L452.3,238.6L451.5,235.0L449.9,232.9L452.7,229.9L454.8,225.7L456.7,223.7L458.5,221.7L461.3,221.1L464.1,220.4L466.8,219.8L469.6,219.1L470.5,224.3L472.1,229.3L472.5,233.5L473.9,233.7L474.9,237.9L475.8,242.1L475.9,245.7L475.9,249.4L477.0,253.7L478.0,258.0L476.4,259.6L477.2,260.6L476.7,262.5L478.5,260.7L481.7,259.4L484.8,258.4L487.0,256.1L486.4,258.5L488.5,257.5L490.6,256.6L489.0,258.4L487.3,260.2L485.2,261.8L483.2,263.3L480.5,264.6L477.7,265.8L475.5,265.8L475.2,264.2L475.4,260.9L471.9,259.8L468.4,258.6L465.2,256.8L462.0,253.2L458.4,254.0L454.7,254.7L451.0,255.5L447.3,256.3L443.6,257.0L439.8,257.7L436.1,258.4L432.4,259.1L428.7,259.7Z" fill="#4b0082"/>
<path d="M475.9,249.4L479.1,248.7L482.2,248.0L485.4,247.3L488.6,246.6L489.3,250.2L490.0,253.8L487.4,254.7L484.9,255.6L482.3,256.5L479.8,258.5L477.2,260.6L476.4,259.6L478.0,258.0L477.0,253.7Z" fill="#4b0082"/>
<path d="M488.6,246.6L491.7,245.7L493.9,248.6L495.1,250.5L493.2,248.8L493.1,251.6L492.6,252.7L490.0,253.8L489.3,250.2Z" fill="#a10000"/>
<path d="M475.8,242.1L478.8,241.3L481.8,240.6L484.7,240.0L487.6,239.3L490.5,238.7L491.1,238.0L493.5,236.0L495.8,237.8L493.6,241.6L496.3,242.5L497.3,245.0L499.0,246.5L502.7,245.4L501.7,243.2L500.3,242.8L502.7,244.0L503.3,246.4L500.8,247.5L498.5,249.3L497.5,247.1L495.9,250.1L495.1,250.5L493.9,248.6L491.7,245.7L488.6,246.6L485.4,247.3L482.2,248.0L479.1,248.7L475.9,249.4L475.9,245.7Z" fill="#4b0082"/>
<path d="M469.6,219.1L472.9,218.3L476.2,217.4L479.6,216.6L482.9,215.7L483.5,221.0L481.3,225.9L480.5,231.5L480.7,235.8L481.8,240.6L478.8,241.3L475.8,242.1L474.9,237.9L473.9,233.7L472.5,233.5L472.1,229.3L470.5,224.3Z" fill="#e0f500"/>
<path d="M482.9,215.7L483.0,213.5L485.0,211.9L486.6,216.8L488.1,221.7L489.6,226.5L491.1,231.4L493.9,233.7L493.5,236.0L491.1,238.0L490.5,238.7L487.6,239.3L484.7,240.0L481.8,240.6L480.7,235.8L480.5,231.5L481.3,225.9L483.5,221.0Z" fill="#4b0082"/>
<path d="M485.0,211.9L486.8,212.0L486.7,210.4L488.6,206.1L488.7,202.3L489.2,198.9L488.7,195.8L490.4,191.2L491.9,186.6L493.7,188.4L494.9,188.8L496.6,187.4L498.2,186.0L501.4,186.6L502.9,187.6L504.0,191.3L505.2,195.1L506.4,198.8L507.0,201.3L509.7,201.5L510.8,204.5L511.9,206.0L515.0,207.5L515.7,208.2L513.7,210.7L512.0,212.8L510.2,214.5L508.4,216.1L506.0,216.0L503.7,215.9L503.3,219.8L500.4,223.4L498.1,225.1L495.9,226.9L495.4,229.2L494.6,232.1L493.9,233.7L491.1,231.4L489.6,226.5L488.1,221.7L486.6,216.8Z" fill="#4b0082"/>
<path d="M118.5,180.1L118.2,182.4L115.0,186.9L114.1,189.9L116.7,190.1L119.2,185.9L121.2,182.2L121.3,177.9L121.9,174.3L119.6,173.7L117.5,174.7L117.9,176.9Z" fill="#6e5555"/>
<path d="M117.2,174.6L119.5,174.2L119.6,176.3L117.7,176.4Z" fill="#cc0000"/>
<path d="M119.3,177.9L120.6,177.7L120.6,181.5L119.7,182.3L119.4,180.1Z" fill="#cc0000"/>
<path d="M118.3,184.1L119.1,184.8L118.3,188.4L117.4,188.1Z" fill="#cc0000"/>
<path d="M96.5,327.3L100.2,328.3L104.0,329.2L103.6,330.5L100.9,329.9L98.1,329.4Z" fill="#cc0000"/>
<path d="M110.5,337.0L112.6,338.4L112.4,339.4L110.6,338.1Z" fill="#cc0000"/>
<path d="M109.3,341.6L110.4,342.7L110.9,344.5L109.7,343.7Z" fill="#cc0000"/>
<path d="M352.1,207.5L354.5,205.8L356.8,204.0L357.3,205.0L355.4,206.5L353.6,207.9Z" fill="#4b0082"/>
<path d="M497.7,250.9L499.9,249.8L500.3,250.7L498.3,251.6Z" fill="#4b0082"/>
<path d="M502.5,250.7L504.0,250.0L504.3,250.7L502.7,251.3Z" fill="#4b0082"/>
<path d="M90.6,284.4L92.7,282.6L95.8,283.4L98.3,283.6" fill="none"/>
<path d="M92.2,284.1L92.7,288.6" fill="none"/>
<path d="M470.2,310.2L473.9,316.4L475.8,319.2L476.0,322.9L472.4,325.6L469.7,329.1L469.0,331.2" fill="none"/>
<path d="M354.7,394.1L357.2,391.3L359.5,392.8L357.4,394.7L354.7,394.1Z" fill="#fff"/>
<path d="M453.9,287.2L455.8,287.9L456.1,289.9L454.7,293.4L457.3,294.0L461.0,295.4L463.7,296.5" fill="none" style="stroke-width:1.7;stroke:#5e5252"/>
<path d="M462.3,280.1L460.7,284.2L460.8,287.4L461.6,290.4" fill="none" style="stroke-width:1.5;stroke:#5e5252"/>
<path d="M463.8,297.0L464.1,300.7L465.5,305.2" fill="none" style="stroke-width:1.3;stroke:#5e5252"/>
<path d="M468.6,296.0L468.1,303.6" fill="none" style="stroke-width:1.6;stroke:#5e5252"/>
<path d="M105.1,387.6L107.3,384.6L111.0,382.4L115.4,380.6L119.1,379.1L122.0,380.6L125.7,381.6L130.9,381.2L134.6,381.6L137.6,382.1L139.8,391.2L142.0,400.1L144.2,409.0L145.7,414.6L148.6,415.6L152.3,416.4L155.3,415.2L158.2,417.8L161.9,420.8L166.4,423.0L170.1,425.2L170.8,428.5L167.8,430.0L164.9,429.4L161.9,426.7L158.2,423.0L154.5,420.1L150.9,418.6L147.2,417.8L143.5,417.5L140.5,416.7L137.6,416.1L135.3,417.8L133.9,419.6L131.6,418.1L130.2,419.3L128.7,421.5L126.8,422.6L127.2,419.3L129.1,416.7L127.2,417.1L125.3,419.3L124.6,423.0L123.1,426.7L120.6,430.0L117.2,432.9L112.7,434.8L107.6,436.2L102.4,437.6L97.7,438.8L93.2,440.1L91.5,439.1L96.9,436.8L102.1,434.8L106.5,432.8L109.9,430.2L112.0,427.0L112.6,424.6L111.0,423.5L108.0,422.6L107.0,419.3L104.3,418.1L102.1,414.9L102.8,411.2L105.1,409.7L108.0,408.2L109.9,406.0L109.5,403.8L105.8,402.3L102.1,400.9L100.6,398.6L102.8,396.4L106.5,395.7L109.5,394.9L110.2,392.7L107.3,391.5L105.5,389.8Z" fill="#a10000"/>
<path d="M93.2,401.6L96.9,402.3L98.7,404.5L96.2,405.7L94.0,403.8Z" fill="#a10000"/>
<path d="M88.1,412.2L90.3,413.4L91.0,414.6L88.8,413.7Z" fill="#a10000"/>
<path d="M97.7,415.6L100.6,416.4L101.4,418.6L98.7,418.6Z" fill="#a10000"/>
<path d="M90.3,425.2L91.8,426.0L91.8,428.5L90.6,427.9Z" fill="#a10000"/>
<path d="M123.2,424.9L126.2,423.0L127.7,426.0L125.9,430.0L123.8,432.3L122.0,430.5L122.6,427.6Z" fill="#a10000"/>
<path d="M154.5,419.6L158.2,421.1L157.5,423.3L154.8,421.8Z" fill="#a10000"/>
<path d="M158.7,423.3L162.7,425.4L161.9,427.3L159.0,425.5Z" fill="#a10000"/>
<path d="M163.4,426.1L167.2,427.6L166.7,429.8L163.9,428.6Z" fill="#a10000"/>
<path d="M148.6,417.8L152.3,418.4L151.9,419.9L149.1,419.3Z" fill="#a10000"/>
<path d="M129.4,419.0L132.4,418.7L132.1,421.1L129.7,422.0Z" fill="#a10000"/>
<path d="M60.0,434.1L63.0,433.8L65.9,435.6L64.4,437.0L61.5,435.9Z" fill="#a10000"/>
<path d="M68.9,437.8L73.3,438.8L77.7,439.7L74.8,440.1L69.6,439.3Z" fill="#a10000"/>
<path d="M82.2,439.7L86.6,439.1L90.3,439.4L89.5,440.3L83.6,440.3Z" fill="#a10000"/>
<path d="M41.2,306.9L44.4,305.6L49.4,306.0L53.1,307.8L55.0,310.6L53.1,313.8L50.6,316.2L46.9,315.6L43.8,316.2L40.6,318.1L37.5,320.6L34.4,323.1L29.4,324.4L27.2,323.1L29.4,320.0L31.9,318.5L36.2,318.1L39.4,315.6L40.6,312.5L40.2,309.4Z" fill="#baf700"/>
<path d="M8.8,329.4L12.5,328.5L18.8,328.1L23.8,327.5L27.2,328.5L26.9,330.6L23.8,331.9L18.8,332.5L13.8,333.1L10.0,332.5L8.1,331.0Z" fill="#baf700"/>
<path d="M26.9,340.6L31.2,337.5L36.2,336.9L38.8,338.5L36.9,340.0L31.9,340.2Z" fill="#baf700"/>
<path d="M511.9,255.6L518.1,255.2L519.4,261.2L515.0,263.8L511.9,268.8L511.2,261.2Z" fill="#4b0082"/>
<path d="M515.0,263.8L519.4,261.2L523.8,263.8L525.0,270.0L523.1,271.9L521.2,269.4L520.0,275.0L516.9,280.0L513.8,278.8L513.1,273.1L511.9,268.8Z" fill="#4b0082"/>
<path d="M505.6,276.9L510.6,275.0L511.9,278.1L510.0,282.5L506.9,287.5L505.0,285.0Z" fill="#4b0082"/>
<path d="M509.8,310.0L525.0,316.2L522.5,333.1L519.4,328.8L517.5,325.0L513.1,321.9L508.1,319.4Z" fill="#cc0000"/>
<path d="M393.6,438.2L396.0,437.2L400.0,437.0L404.0,437.4L406.0,438.5L405.5,441.0L394.0,441.0Z" fill="#8cf700"/>
<path d="M417.5,438.0L420.0,436.6L424.0,435.6L428.0,435.4L430.0,436.4L428.0,438.0L425.0,441.0L418.0,441.0Z" fill="#8cf700"/>
<path d="M175.9,409.9L177.2,409.0L178.1,410.2L176.9,411.3Z" fill="#b00000" style="stroke-width:1.2;stroke:#5a2a2a"/>
<path d="M180.3,407.8L182.8,406.6L185.5,407.5L185.2,409.9L182.8,410.8L180.7,409.9Z" fill="#b00000" style="stroke-width:1.2;stroke:#5a2a2a"/>
<path d="M196.1,412.2L198.0,411.5L199.9,413.7L201.1,415.5L199.5,416.5L197.3,415.2Z" fill="#b00000" style="stroke-width:1.2;stroke:#5a2a2a"/>
<path d="M203.9,416.7L206.9,416.2L209.8,417.2L209.5,418.6L206.4,418.3L204.2,418.0Z" fill="#b00000" style="stroke-width:1.2;stroke:#5a2a2a"/>
<path d="M208.4,419.5L210.3,419.3L210.6,420.9L208.8,421.1Z" fill="#b00000" style="stroke-width:1.2;stroke:#5a2a2a"/>
<path d="M212.8,419.3L215.0,418.9L216.8,420.8L218.2,421.7L217.2,423.2L214.7,422.6L213.2,421.1Z" fill="#b00000" style="stroke-width:1.2;stroke:#5a2a2a"/>
<path d="M218.2,427.0L220.9,426.0L223.9,428.2L227.1,430.8L229.9,434.1L228.0,437.0L225.3,440.7L219.4,440.7L218.2,437.0L217.7,432.9L219.1,429.7Z" fill="#e60000" style="stroke-width:1;stroke:#5a2020"/>
</g>
<text class="lg" x="664.3" y="144.3">ILI Activity Level</text>
<rect x="664.8" y="156.75" width="11.8" height="11.5" rx="2.2" fill="#4b0082"/>
<rect x="664.8" y="174.42" width="11.8" height="11.5" rx="2.2" fill="#780000"/>
<rect x="664.8" y="192.09" width="11.8" height="11.5" rx="2.2" fill="#a10000"/>
<rect x="664.8" y="209.76" width="11.8" height="11.5" rx="2.2" fill="#cc0000"/>
<rect x="664.8" y="227.43" width="11.8" height="11.5" rx="2.2" fill="#fa4f00"/>
<rect x="664.8" y="245.10" width="11.8" height="11.5" rx="2.2" fill="#fc8200"/>
<rect x="664.8" y="262.77" width="11.8" height="11.5" rx="2.2" fill="#fcb100"/>
<rect x="664.8" y="280.44" width="11.8" height="11.5" rx="2.2" fill="#f7df00"/>
<rect x="664.8" y="298.11" width="11.8" height="11.5" rx="2.2" fill="#e0f500"/>
<rect x="664.8" y="315.78" width="11.8" height="11.5" rx="2.2" fill="#baf700"/>
<rect x="664.8" y="333.45" width="11.8" height="11.5" rx="2.2" fill="#8cf700"/>
<rect x="664.8" y="351.12" width="11.8" height="11.5" rx="2.2" fill="#5bf700"/>
<rect x="664.8" y="368.79" width="11.8" height="11.5" rx="2.2" fill="#00c200"/>
<rect x="665.2" y="386.76" width="11" height="11" rx="2.2" fill="#fff" stroke="#bbb" stroke-width="0.8"/>
<path d="M680,162.25H691.5V197.59H680" fill="none" stroke="#333" stroke-width="0.9"/>
<path d="M680,215.26H691.5V250.60H680" fill="none" stroke="#333" stroke-width="0.9"/>
<path d="M680,268.27H691.5V285.94H680" fill="none" stroke="#333" stroke-width="0.9"/>
<path d="M680,303.61H691.5V321.28H680" fill="none" stroke="#333" stroke-width="0.9"/>
<path d="M680,338.95H691.5V374.29H680" fill="none" stroke="#333" stroke-width="0.9"/>
<text x="694.5" y="183.42" class="lt">Very High</text>
<text x="694.5" y="236.43" class="lt">High</text>
<text x="694.5" y="280.61" class="lt">Moderate</text>
<text x="694.5" y="315.95" class="lt">Low</text>
<text x="694.5" y="360.12" class="lt">Minimal</text>
<path d="M680,392.21H691" stroke="#333" stroke-width="0.9"/>
<text x="694.5" y="395.46" class="lt">Insufficient Data</text>
<text class="lb" x="3.1" y="292.5">N. Mariana Islands</text>
<text class="lb" x="169.9" y="392.7">Hawaii</text>
<text class="lb" x="301.9" y="435.6">Puerto Rico</text>
<text class="lb" x="490.6" y="301.9">New York City</text>
<text class="lb" x="472.6" y="348.1">District of Columbia</text>
</svg>
</body></html>
